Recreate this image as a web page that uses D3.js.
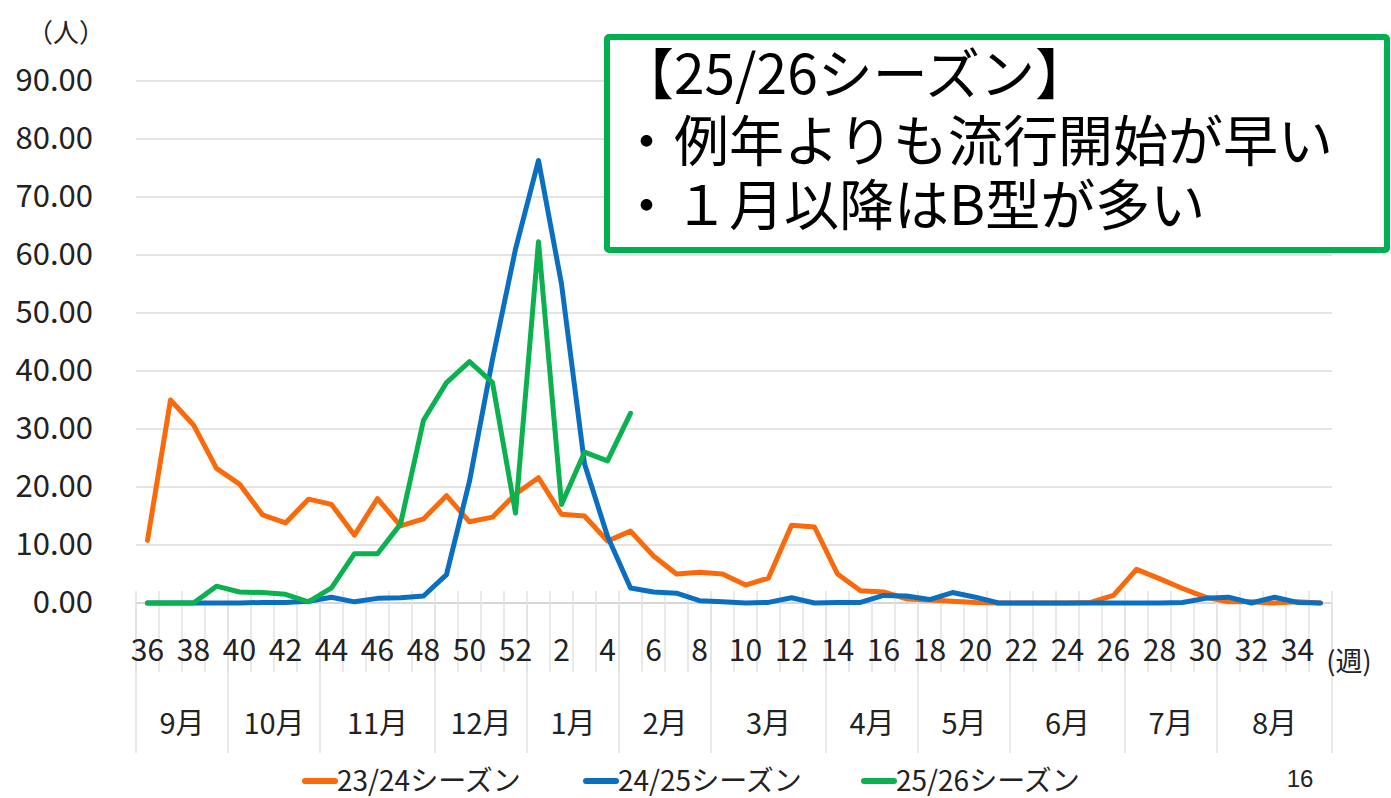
<!DOCTYPE html>
<html>
<head>
<meta charset="utf-8">
<script src="https://cdn.jsdelivr.net/npm/d3@7"></script>
<style>
  body { margin: 0; background: #fff; }
  text { font-family: "Noto Sans CJK JP", "Noto Sans", sans-serif; fill: #222; }
</style>
</head>
<body>
<div id="chart"></div>
<script>
// weeks of the season, Sept (36) to Aug (35)
var weeks = [36, 37, 38, 39, 40, 41, 42, 43, 44, 45, 46, 47, 48, 49, 50, 51, 52,
  1, 2, 3, 4, 5, 6, 7, 8, 9, 10, 11, 12, 13, 14, 15, 16, 17, 18, 19, 20,
  21, 22, 23, 24, 25, 26, 27, 28, 29, 30, 31, 32, 33, 34, 35];

var monthLabels = ["9月", "10月", "11月", "12月", "1月", "2月", "3月", "4月", "5月", "6月", "7月", "8月"];
var monthWeekCounts = [4, 4, 5, 4, 4, 4, 5, 4, 4, 5, 4, 5];

var yTicks = [0, 10, 20, 30, 40, 50, 60, 70, 80, 90];

var season2324 = [10.8, 35.0, 30.7, 23.2, 20.5, 15.2, 13.8, 17.9, 17.0, 11.7, 18.0, 13.3, 14.5, 18.5, 14.0, 14.8, 18.8,
  21.6, 15.3, 15.0, 10.7, 12.4, 8.1, 5.0, 5.3, 5.0, 3.1, 4.3, 13.4, 13.1, 5.0, 2.1, 1.9, 0.7, 0.5, 0.3, 0.1,
  0.0, 0.0, 0.0, 0.0, 0.1, 1.3, 5.8, 4.2, 2.5, 1.0, 0.2, 0.2, 0.0, 0.2, 0.0];
var season2425 = [0.0, 0.0, 0.0, 0.0, 0.0, 0.1, 0.1, 0.3, 1.0, 0.2, 0.8, 0.9, 1.2, 4.9, 21.0, 42.0, 61.0,
  76.3, 55.0, 24.0, 11.5, 2.6, 1.9, 1.7, 0.4, 0.2, 0.0, 0.1, 0.9, 0.0, 0.1, 0.1, 1.3, 1.2, 0.6, 1.8, 1.0,
  0.0, 0.0, 0.0, 0.0, 0.0, 0.0, 0.0, 0.0, 0.1, 0.8, 1.0, 0.0, 1.0, 0.1, 0.0];
var season2526 = [0.0, 0.0, 0.0, 2.9, 1.9, 1.8, 1.5, 0.2, 2.6, 8.5, 8.5, 13.6, 31.5, 38.0, 41.6, 38.0, 15.5,
  62.3, 17.0, 26.0, 24.5, 32.7];

var seriesNames = ["23/24シーズン", "24/25シーズン", "25/26シーズン"];
var seriesColors = ["#fb6a0a", "#0b6fc1", "#0bb04f"];

var noteLines = ["【25/26シーズン】", "・例年よりも流行開始が早い", "・１月以降はB型が多い"];

var width = 1391, height = 798;

var svg = d3.select("#chart").append("svg")
  .attr("width", width)
  .attr("height", height);

var x = d3.scaleBand().domain(d3.range(weeks.length)).range([136, 1332]);
var y = d3.scaleLinear().domain([0, 90]).range([603, 81]);

// horizontal gridlines
svg.append("g")
  .selectAll("line")
  .data(yTicks)
  .join("line")
  .attr("x1", 136).attr("x2", 1332)
  .attr("y1", d => y(d)).attr("y2", d => y(d))
  .attr("stroke", d => d === 0 ? "#d6d6d6" : "#e4e4e4")
  .attr("stroke-width", 2);

// y labels
svg.append("g")
  .selectAll("text")
  .data(yTicks)
  .join("text")
  .attr("x", 93)
  .attr("y", d => y(d) - 4)
  .attr("text-anchor", "end")
  .attr("dominant-baseline", "central")
  .style("font-size", "31px")
  .text(d => d.toFixed(2));

svg.append("text")
  .attr("x", 66).attr("y", 30)
  .attr("text-anchor", "middle")
  .attr("dominant-baseline", "central")
  .style("font-size", "26px")
  .text("（人）");

// short tick lines at every week boundary
var bounds = d3.range(weeks.length + 1).map(i => 136 + i * x.step());
svg.append("g")
  .selectAll("line")
  .data(bounds)
  .join("line")
  .attr("x1", d => d).attr("x2", d => d)
  .attr("y1", 591).attr("y2", 672)
  .attr("stroke", "#e2e2e2")
  .attr("stroke-width", 1.5);

// month separators
var monthStarts = [0];
monthWeekCounts.forEach((c, i) => monthStarts.push(monthStarts[i] + c));
svg.append("g")
  .selectAll("line")
  .data(monthStarts)
  .join("line")
  .attr("x1", d => 136 + d * x.step()).attr("x2", d => 136 + d * x.step())
  .attr("y1", 603).attr("y2", 753)
  .attr("stroke", "#e2e2e2")
  .attr("stroke-width", 1.5);

// week tick labels (even weeks only)
var xAxis = d3.axisBottom(x)
  .tickValues(d3.range(weeks.length).filter(i => weeks[i] % 2 === 0))
  .tickFormat(i => weeks[i])
  .tickSize(0);
var ax = svg.append("g")
  .attr("transform", "translate(0,603)")
  .call(xAxis);
ax.select(".domain").remove();
ax.selectAll("text")
  .attr("y", 45)
  .attr("dy", 0)
  .attr("dominant-baseline", "central")
  .style("font-size", "30px")
  .style("font-family", "\"Noto Sans CJK JP\", sans-serif")
  .style("fill", "#222");

svg.append("text")
  .attr("x", 1349).attr("y", 659)
  .attr("text-anchor", "middle")
  .attr("dominant-baseline", "central")
  .style("font-size", "27px")
  .text("(週)");

// month labels
svg.append("g")
  .selectAll("text")
  .data(monthLabels)
  .join("text")
  .attr("x", (d, i) => 136 + (monthStarts[i] + monthWeekCounts[i] / 2) * x.step())
  .attr("y", 721)
  .attr("text-anchor", "middle")
  .attr("dominant-baseline", "central")
  .style("font-size", "29px")
  .text(d => d);

// lines
var valueline = d3.line()
  .x((d, i) => x(i) + x.bandwidth() / 2)
  .y(d => y(d));

[season2324, season2425, season2526].forEach((s, k) => {
  svg.append("path")
    .datum(s)
    .attr("fill", "none")
    .attr("stroke", seriesColors[k])
    .attr("stroke-width", 5)
    .attr("stroke-linejoin", "round")
    .attr("stroke-linecap", "round")
    .attr("d", valueline);
});

// legend
var legendX = [303, 584, 862];
var legend = svg.append("g")
  .selectAll("g")
  .data(seriesNames)
  .join("g")
  .attr("transform", (d, i) => "translate(" + legendX[i] + ",777)");
legend.append("line")
  .attr("x1", 2).attr("x2", 32)
  .attr("y1", 4).attr("y2", 4)
  .attr("stroke", (d, i) => seriesColors[i])
  .attr("stroke-width", 6)
  .attr("stroke-linecap", "round");
legend.append("text")
  .attr("x", 34)
  .attr("y", 2)
  .attr("dominant-baseline", "central")
  .style("font-size", "28px")
  .text(d => d);

svg.append("text")
  .attr("x", 1300).attr("y", 778)
  .attr("text-anchor", "middle")
  .attr("dominant-baseline", "central")
  .style("font-family", "\"Liberation Sans\", Arial, sans-serif")
  .style("font-size", "24px")
  .text("16");

// note box
svg.append("rect")
  .attr("x", 607).attr("y", 37)
  .attr("width", 780).attr("height", 213)
  .attr("rx", 2)
  .attr("fill", "#fff")
  .attr("stroke", "#00b050")
  .attr("stroke-width", 6);

svg.append("g")
  .selectAll("text")
  .data(noteLines)
  .join("text")
  .attr("x", 619)
  .attr("y", (d, i) => [70, 137, 201][i])
  .attr("dominant-baseline", "central")
  .style("font-size", "55px")
  .style("fill", "#000")
  .text(d => d);
</script>
</body>
</html>
